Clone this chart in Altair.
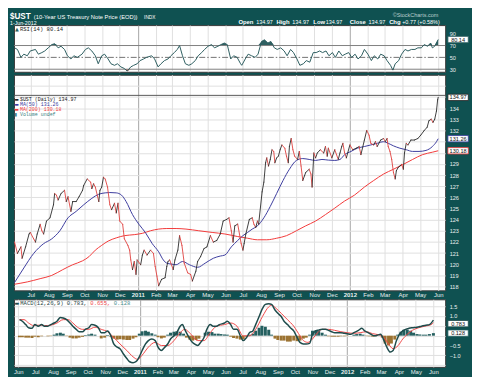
import altair as alt
import pandas as pd

# ---------------- data ----------------
# day offsets are calendar days counted from 2010-07-01
PRICE_DAY = [-28,-23,-17,-15,-9,-3,-1,5,8,11,16,19,22,27,33,39,41,44,47,52,58,61,64,69,72,78,83,89,91,97,
             103,105,108,111,117,119,122,125,128,132,136,139,144,147,150,153,158,161,167,170,172,175,178,181,183,
             189,192,195,200,206,211,214,217,220,225,231,234,236,239,245,248,253,256,260,264,270,275,278,284,287,
             292,298,303,309,314,320,326,331,337,341,345,348,351,356,362,365,367,370,376,381,384,387,390,392,398,
             401,404,406,409,412,415,418,420,423,426,429,432,437,440,443,445,448,451,454,459,462,465,468,471,473,
             479,482,484,487,490,493,498,504,507,510,512,518,523,529,532,535,537,540,543,549,554,560,565,568,574,
             578,582,585,590,593,596,602,607,610,613,615,618,621,624,627,629,632,635,638,641,643,646,649,654,660,
             666,671,677,682,685,689,692,695,698,700,701]
PRICE = [121.98,120.97,121.55,120.53,121.55,122.71,122.85,122.27,121.98,122.71,123.58,123.0,122.71,123.87,124.16,
         125.33,126.34,126.2,125.76,126.34,126.63,125.62,126.05,124.74,125.62,125.62,126.05,126.63,127.07,127.65,
         127.36,126.78,127.22,126.92,125.62,126.63,126.92,127.8,127.65,126.92,125.33,124.89,125.47,124.6,125.47,
         123.87,123.58,122.27,121.69,121.26,120.38,119.51,120.24,119.08,120.38,119.95,120.82,121.26,120.82,121.26,
         120.97,119.8,118.93,118.06,118.64,118.78,119.8,120.24,120.38,119.51,120.38,121.26,122.56,121.69,120.09,
         119.22,119.08,118.49,119.37,120.24,120.67,121.4,121.55,122.56,121.98,122.13,122.71,123.87,124.02,124.16,
         123.0,121.98,123.44,123.6,121.84,121.26,121.84,122.71,124.02,124.16,123.58,123.29,123.87,123.58,126.49,
         127.36,129.1,129.54,128.81,129.4,130.27,130.12,129.1,129.54,129.69,130.27,130.7,130.41,129.69,129.1,
         130.56,131.28,130.27,129.69,129.4,130.12,128.81,127.51,127.94,128.23,128.52,128.09,126.92,129.98,129.54,
         129.98,130.27,129.98,130.56,129.69,130.41,129.54,130.27,129.4,129.98,130.56,130.85,129.98,129.54,130.7,
         130.27,130.41,130.56,129.83,131.14,132.01,131.58,130.85,130.7,131.0,130.56,131.14,131.28,131.0,131.28,
         130.56,130.12,129.4,128.23,127.65,128.38,128.67,128.81,128.96,128.52,129.98,130.85,130.7,131.14,131.14,
         131.28,131.58,132.0,132.29,132.87,133.01,132.72,133.01,133.74,134.75,134.97]

MA50_DAY = [-28,-12,5,22,36,50,64,78,91,105,117,128,136,147,156,164,175,186,197,209,220,228,234,242,250,261,273,
            287,300,314,326,334,345,356,365,373,381,390,401,412,423,434,445,457,468,479,490,501,512,523,532,540,551,
            562,574,585,596,607,615,624,635,646,657,668,680,691,698,701]
MA50 = [118.35,119.66,120.97,121.84,122.27,123.0,124.16,124.74,125.33,125.91,126.28,126.4,126.43,126.4,126.2,125.62,
        124.45,123.58,122.85,121.84,121.11,120.38,120.09,120.01,119.95,120.24,119.95,119.72,120.09,120.53,120.73,
        120.82,121.55,122.13,122.56,122.85,123.15,123.44,124.16,125.18,126.34,127.51,128.52,129.31,129.48,129.4,
        129.31,129.4,129.34,129.31,129.4,129.83,130.12,130.41,130.56,130.7,130.85,130.99,130.85,130.62,130.41,
        130.27,130.12,130.12,130.21,130.56,130.99,131.26]

MA200_DAY = [-28,-6,16,36,55,72,89,100,111,122,133,147,161,178,192,206,220,234,250,267,289,312,334,356,373,390,406,
             423,440,457,473,490,507,523,540,557,574,590,607,624,641,657,674,691,701]
MA200 = [118.2,118.41,118.7,118.99,119.51,119.95,120.3,120.67,121.26,121.69,122.07,122.36,122.56,122.65,122.77,123.0,
         123.15,123.2,123.2,123.15,123.0,122.85,122.71,122.48,122.33,122.19,122.19,122.33,122.56,123.0,123.44,123.87,
         124.45,125.03,125.67,126.2,126.92,127.51,128.09,128.52,128.96,129.4,129.83,130.05,130.18]

RSI_DAY = [-28,-23,-17,-12,-6,-1,8,13,19,24,30,36,41,47,52,58,63,69,74,80,88,94,99,105,111,116,122,127,133,138,144,
           149,155,161,166,172,177,183,188,194,199,208,213,219,224,230,236,241,247,252,256,261,266,272,277,283,288,
           294,299,305,311,316,322,327,333,338,344,349,355,361,363,369,374,380,386,391,397,402,408,413,419,424,430,
           436,441,447,452,458,463,469,474,480,486,491,497,502,508,513,519,524,530,536,541,547,552,558,563,569,574,
           580,586,591,597,602,608,613,619,623,627,633,638,644,649,655,661,666,672,677,683,688,691,695,701]
RSI = [66.1,63.4,50,55.4,52.7,60.8,63.4,55.4,58.1,60.8,66.1,71.5,73.1,66.1,68.8,63.4,52.7,47.3,52.7,50,55.4,63.4,
       66.1,60.8,52.7,39.2,52.7,55.4,47.3,39.2,36.6,39.2,33.9,31.2,26.9,33.9,36.6,39.2,44.6,47.3,50,52.7,47.3,33.9,
       39.2,44.6,47.3,52.7,58.1,63.4,69.9,52.7,39.2,36.6,39.2,44.6,52.7,58.1,63.4,68.8,71.5,66.1,68.8,71.5,74.2,71.5,
       47.3,52.7,50,39.2,36.6,47.3,55.4,52.7,50,55.4,76.9,79.6,74.2,76.9,66.1,63.4,66.1,60.8,52.7,63.4,58.1,47.3,36.6,
       39.2,44.6,41.9,58.1,58.1,60.8,58.1,60.8,52.7,58.1,50,60.8,52.7,55.4,58.1,50,55.4,47.3,52.7,63.4,55.4,44.6,52.7,
       47.3,55.4,52.7,44.6,36.6,28.5,39.2,44.6,55.4,63.4,60.8,63.4,63.4,66.1,66.1,71.5,68.8,74.2,66.1,68.8,80.14]

MACD_DAY = [-28,-23,-17,-12,-6,-1,5,11,16,22,27,33,38,44,49,55,61,66,72,77,83,88,94,99,105,111,116,122,127,133,138,
            144,149,155,161,166,172,177,183,188,194,199,205,211,216,222,227,233,238,244,249,255,259,263,269,274,280,
            286,291,297,302,308,313,319,324,333,338,344,349,355,361,366,372,377,383,388,394,400,405,411,416,422,427,
            433,438,444,449,455,461,466,472,477,483,488,494,499,505,511,516,522,527,533,538,544,549,555,561,569,575,
            580,586,591,597,602,608,614,619,625,630,636,641,647,652,658,664,672,680,688,694,701]
MACD = [0.81,0.73,0.56,0.40,0.37,0.56,0.48,0.56,0.48,0.48,0.56,0.64,0.73,0.92,0.89,0.81,0.64,0.48,0.32,0.20,0.20,
        0.32,0.40,0.56,0.53,0.40,0.15,0.15,0.24,-0.01,-0.42,-0.58,-0.66,-0.92,-1.16,-1.32,-1.37,-1.32,-1.07,-0.75,
        -0.42,-0.25,-0.17,-0.25,-0.58,-0.75,-0.61,-0.42,-0.17,-0.01,0.15,0.48,0.56,0.32,-0.01,-0.25,-0.42,-0.50,
        -0.34,-0.09,0.32,0.56,0.48,0.48,0.56,0.64,0.73,0.56,0.32,0.32,-0.01,-0.25,-0.09,0.15,0.24,0.56,0.97,1.38,
        1.58,1.62,1.58,1.30,1.13,0.97,0.73,0.56,0.40,0.24,-0.09,-0.34,-0.42,-0.42,-0.39,0.07,0.24,0.28,0.32,0.32,
        0.27,0.20,0.15,0.15,0.15,0.12,0.10,0.07,0.15,0.27,0.37,0.24,0.15,0.07,-0.01,0.02,0.07,-0.25,-0.58,-0.83,
        -0.75,-0.25,0.07,0.24,0.32,0.37,0.40,0.43,0.48,0.53,0.56,0.783]

SIG_DAY = [-28,-20,-12,-3,5,16,27,38,49,58,66,74,83,94,105,116,127,138,149,161,172,180,188,199,211,222,233,244,255,
           263,274,286,297,308,319,333,344,355,366,377,388,400,411,416,424,433,444,455,466,472,480,488,497,505,516,
           527,538,549,561,572,583,594,605,614,622,630,639,647,655,664,675,686,697,701]
SIGNAL = [0.81,0.81,0.64,0.51,0.53,0.51,0.53,0.64,0.81,0.81,0.64,0.43,0.32,0.32,0.43,0.32,0.20,-0.09,-0.42,-0.75,
          -1.07,-1.20,-0.99,-0.58,-0.34,-0.50,-0.50,-0.25,0.15,0.32,0.07,-0.25,-0.25,0.15,0.48,0.56,0.64,0.48,-0.01,
          -0.01,0.32,0.97,1.46,1.54,1.38,1.13,0.81,0.48,-0.01,-0.25,-0.34,-0.17,0.15,0.32,0.32,0.27,0.20,0.15,0.12,
          0.15,0.20,0.10,0.04,-0.09,-0.42,-0.66,-0.50,-0.17,0.07,0.27,0.40,0.48,0.56,0.655]

HIST_DAY = [-28,-23,-17,-12,-6,-1,5,11,16,22,27,33,38,44,49,55,61,66,72,77,83,88,94,99,105,111,116,122,127,133,138,
            144,149,155,161,166,172,177,183,188,194,199,205,211,216,222,227,233,238,244,249,255,261,266,272,277,283,
            288,294,299,305,311,316,322,327,333,338,344,349,355,
            361,366,372,377,383,388,394,399,405,411,416,422,427,433,438,444,449,455,461,466,472,477,483,488,494,499,
            505,511,516,522,527,533,538,544,549,555,561,566,572,577,583,588,594,599,605,611,616,622,627,633,638,644,
            649,655,661,666,672,677,683,688,694,701]
HIST = [-0.08,-0.08,-0.1,-0.1,-0.12,-0.05,-0.08,-0.03,0.0,-0.03,-0.02,0.05,0.12,0.15,0.1,-0.02,-0.1,-0.14,-0.14,-0.1,
        -0.06,0.03,0.06,0.1,0.05,0.0,-0.14,-0.1,0.03,-0.05,-0.15,-0.2,-0.18,-0.2,-0.22,-0.22,-0.15,-0.08,0.1,0.22,
        0.25,0.2,0.12,0.05,-0.08,-0.14,-0.1,0.05,0.15,0.2,0.22,0.2,0.1,-0.1,-0.2,-0.25,-0.22,-0.15,0.0,0.15,
        0.2,0.18,0.1,0.1,0.08,0.06,0.05,-0.05,-0.12,-0.15,
        -0.2,-0.18,-0.05,0.05,0.1,0.25,0.4,0.5,0.45,0.3,0.05,-0.15,-0.22,-0.25,-0.25,-0.3,-0.3,-0.25,-0.28,-0.25,
        -0.15,-0.1,0.05,0.25,0.28,0.25,0.15,0.05,-0.03,-0.05,-0.05,-0.05,-0.03,-0.03,-0.02,0.0,0.05,0.08,0.1,0.05,
        -0.02,-0.03,-0.05,-0.03,0.0,-0.1,-0.4,-0.5,-0.4,-0.2,0.05,0.2,0.3,0.3,0.25,0.15,0.08,0.06,0.05,0.05,
        0.08,0.128]

PRICE_TICKS = [118,119,120,121,122,123,124,125,126,127,128,129,130,131,132,133,134,135,136]
PRICE_HIDDEN = [130, 131, 135, 136]
RSI_TICKS = [30, 50, 70, 90]
RSI_BANDS = [70, 30]
RSI_MID = [50]
MACD_TICKS = [-1.5, -1.0, -0.5, 0.0, 0.5, 1.0, 1.5]
TOP_LINE = [135.15]

LAST = {"price": 134.97, "ma50": 131.26, "ma200": 130.18, "rsi": 80.14,
        "macd": 0.783, "signal": 0.655, "hist": 0.128}

TITLE_MAIN = "$UST"
TITLE_DESC = "(10-Year US Treasury Note Price (EOD))"
TITLE_EXCH = "INDX"
TITLE_DATE = "1-Jun-2012"
BRAND = "\u00a9StockCharts.com"
QUOTE_LABELS = ["Open", "High", "Low", "Close", "Chg"]
QUOTE_VALUES = ["134.97", "134.97", "134.97", "134.97", "+0.77 (+0.58%)"]

# ---------------- layout / style ----------------
BASE_MS = pd.Timestamp("2010-07-01").value // 10**6
DAY_MS = 86_400_000


def ms(days):
    return [BASE_MS + int(d) * DAY_MS for d in days]


W = 434
H_RSI, H_PRICE, H_MACD = 47, 217, 68
BG = "#0f5151"
GRID = "#e0e0e0"
YEAR_GRID = "#a6a6a6"
LABEL = "#e8efef"
SANS = "Liberation Sans"
MONO = "Liberation Mono"
UP, DOWN = "#2a2a2a", "#e0403e"
MA50_C, MA200_C = "#3d3d9e", "#f23a3a"
RSI_C, RSI_LOW = "#2e5f61", "#e04a3a"
MACD_C, SIG_C = "#1f4c4c", "#f04848"
HIST_POS, HIST_NEG = "#245f5f", "#9c7332"
VOL_C = "#3a8080"
BOX = "M-1,-0.31H1V0.31H-1Z"
BOX_SIZE = 420
TAG_X = W + 13

X_DOMAIN = ms([-29, 713])
YEAR_TEST = "month(datum.value) == 0"
ONE = pd.DataFrame({"k": [0]})


def x_axis(labels):
    return alt.Axis(
        title=None, grid=True,
        gridColor={"condition": {"test": YEAR_TEST, "value": YEAR_GRID}, "value": GRID},
        tickCount={"interval": "month", "step": 1},
        ticks=False, tickSize=0, domain=False, labels=labels,
        labelExpr="month(datum.value) == 0 ? timeFormat(datum.value, '%Y') : timeFormat(datum.value, '%b')",
        labelFontWeight={"condition": {"test": YEAR_TEST, "value": "bold"}, "value": "normal"},
        labelColor=LABEL, labelFont=SANS, labelFontSize=6, labelPadding=1.5,
        labelOverlap=False, labelFlush=False)


def xenc(field, labels):
    return alt.X(f"{field}:T", scale=alt.Scale(domain=X_DOMAIN), axis=x_axis(labels))


def y_axis(values, label_expr=None, grid=False):
    kw = dict(orient="right", values=values, grid=grid, gridColor=GRID, ticks=False, tickSize=0,
              domain=False, labelColor=LABEL, labelFont=SANS, labelFontSize=5.6, labelPadding=4,
              title=None, labelOverlap=False)
    if label_expr:
        kw["labelExpr"] = label_expr
    return alt.Axis(**kw)


def label(text, x, y, color, size, font=SANS, weight="normal", align="left"):
    return alt.Chart(ONE).mark_text(
        text=text, align=align, baseline="alphabetic", font=font, fontSize=size,
        fontWeight=weight, color=color).encode(x=alt.value(x), y=alt.value(y))


def tag(value, stroke, yfn, shift=0):
    df = pd.DataFrame({"v": [value], "s": [f"{value:g}"]})
    box = alt.Chart(df).mark_point(
        shape=BOX, size=BOX_SIZE, filled=True, fill="white", stroke=stroke,
        strokeWidth=0.8, opacity=1, yOffset=shift).encode(x=alt.value(TAG_X), y=yfn("v"))
    txt = alt.Chart(df).mark_text(
        font=SANS, fontSize=5.6, baseline="middle", color="#111", yOffset=shift).encode(
        x=alt.value(TAG_X), y=yfn("v"), text="s:N")
    return [box, txt]


# ---------------- RSI panel ----------------
RSI_SCALE = alt.Scale(domain=[25.7, 104.5], nice=False, zero=False)
RSI_AXIS = y_axis(RSI_TICKS)


def ry(f):
    return alt.Y(f"{f}:Q", scale=RSI_SCALE, axis=RSI_AXIS)


rsi_df = pd.DataFrame({"t": ms(RSI_DAY), "rsi": RSI})
rx = xenc("t", False)
rsi_base = alt.Chart(rsi_df)
rsi_layers = [
    rsi_base.transform_calculate(hi="max(datum.rsi, 70)").mark_area(color=RSI_C)
    .encode(x=rx, y=ry("hi"), y2=alt.datum(70)),
    rsi_base.transform_calculate(lo="min(datum.rsi, 30)").mark_area(color=RSI_LOW)
    .encode(x=rx, y=ry("lo"), y2=alt.datum(30)),
    alt.Chart(pd.DataFrame({"v": RSI_BANDS})).mark_rule(color="#808080", strokeWidth=1).encode(y=ry("v")),
    alt.Chart(pd.DataFrame({"v": RSI_MID})).mark_rule(color="#505050", strokeWidth=0.8,
                                                      strokeDash=[6, 2, 1.5, 2]).encode(y=ry("v")),
    rsi_base.mark_line(color=RSI_C, strokeWidth=1.0).encode(x=rx, y=ry("rsi")),
]
rsi_layers += tag(LAST["rsi"], RSI_C, ry)
rsi_layers += [
    label("\u25b2", 1, 5.5, RSI_C, 5, font="DejaVu Sans"),
    label(f"RSI(14) {LAST['rsi']}", 6, 5.5, "#222", 5.6, font=MONO),
    label(TITLE_MAIN, -4, -6.6, "white", 8.2, weight="bold"),
    label(TITLE_DESC, 20, -6.6, "white", 5.8),
    label(TITLE_EXCH, 131, -6.6, "white", 4.8),
    label(TITLE_DATE, -4, -0.2, "white", 5.3),
    label(BRAND, W - 7, -8.6, "#bcd0d0", 5.5, align="right"),
]
QUOTE_LX = [225.9, 264.2, 301.3, 338.0, 377.6]
QUOTE_VX = [243.8, 280.1, 313.7, 356.9, 390.7]
for lab, val, lx, vx in zip(QUOTE_LABELS, QUOTE_VALUES, QUOTE_LX, QUOTE_VX):
    rsi_layers.append(label(lab, lx, -0.6, "white", 5.9, weight="bold"))
    rsi_layers.append(label(val, vx, -0.6, "white", 5.5))
rsi = alt.layer(*rsi_layers).properties(width=W, height=H_RSI)

# ---------------- price panel ----------------
PRICE_SCALE = alt.Scale(domain=[117.65, 137.0], nice=False, zero=False)
hidden_expr = " || ".join(f"datum.value == {v}" for v in PRICE_HIDDEN)
PRICE_AXIS = y_axis(PRICE_TICKS, f"({hidden_expr}) ? '' : datum.label", grid=True)


def py(f):
    return alt.Y(f"{f}:Q", scale=PRICE_SCALE, axis=PRICE_AXIS)


seg_df = pd.DataFrame({"t": ms(PRICE_DAY), "p": PRICE})
seg_df["t0"] = seg_df["t"].shift()
seg_df["p0"] = seg_df["p"].shift()
seg_df = seg_df.dropna().astype({"t0": "int64"})
px_ = xenc("t", True)
ma50_df = pd.DataFrame({"t": ms(MA50_DAY), "v": MA50})
ma200_df = pd.DataFrame({"t": ms(MA200_DAY), "v": MA200})

price_layers = [
    alt.Chart(pd.DataFrame({"v": TOP_LINE})).mark_rule(color="#5a5a5a", strokeWidth=1).encode(y=py("v")),
    alt.Chart(ma200_df).mark_line(color=MA200_C, strokeWidth=1, interpolate="monotone").encode(x=px_, y=py("v")),
    alt.Chart(ma50_df).mark_line(color=MA50_C, strokeWidth=1, interpolate="monotone").encode(x=px_, y=py("v")),
    alt.Chart(seg_df).mark_rule(strokeWidth=0.9, strokeCap="round").encode(
        x=alt.X("t0:T", scale=alt.Scale(domain=X_DOMAIN), axis=x_axis(True)), x2="t",
        y=py("p0"), y2="p",
        color=alt.condition("datum.p < datum.p0", alt.value(DOWN), alt.value(UP))),
]
price_layers += tag(LAST["ma200"], MA200_C, py)
price_layers += tag(LAST["ma50"], MA50_C, py)
price_layers += tag(LAST["price"], "#222", py)
LEG_Y = [26.0, 31.2, 36.4, 41.6]
legend_rows = [
    (f"$UST (Daily) {LAST['price']}", "#222", "\u25ac"),
    (f"MA(50) {LAST['ma50']}", MA50_C, "\u25ac"),
    (f"MA(200) {LAST['ma200']}", MA200_C, "\u25ac"),
    ("Volume undef", VOL_C, "\u25ae"),
]
for (txt_, col, icon), yy in zip(legend_rows, LEG_Y):
    price_layers.append(label(icon, 0.5, yy, col, 4.6, font="DejaVu Sans"))
    price_layers.append(label(txt_, 6, yy, col, 5.0, font=MONO))
price = alt.layer(*price_layers).properties(width=W, height=H_PRICE)

# ---------------- MACD panel ----------------
MACD_SCALE = alt.Scale(domain=[-1.58, 1.84], nice=False, zero=False)
MACD_AXIS = y_axis(MACD_TICKS,
                   "(datum.value == 0 || datum.value == 0.5 || datum.value == -1.5) ? '' : format(datum.value, '.1f')",
                   grid=True)


def my(f):
    return alt.Y(f"{f}:Q", scale=MACD_SCALE, axis=MACD_AXIS)


mx = xenc("t", True)
hist_df = pd.DataFrame({"t": ms(HIST_DAY), "v": HIST})
macd_df = pd.DataFrame({"t": ms(MACD_DAY), "v": MACD})
sig_df = pd.DataFrame({"t": ms(SIG_DAY), "v": SIGNAL})
macd_layers = [
    alt.Chart(hist_df).mark_bar(size=3).encode(
        x=mx, y=my("v"), y2=alt.datum(0),
        color=alt.condition("datum.v >= 0", alt.value(HIST_POS), alt.value(HIST_NEG))),
    alt.Chart(sig_df).mark_line(color=SIG_C, strokeWidth=1, interpolate="monotone").encode(x=mx, y=my("v")),
    alt.Chart(macd_df).mark_line(color=MACD_C, strokeWidth=1.5, interpolate="monotone").encode(x=mx, y=my("v")),
]
macd_layers += tag(LAST["hist"], HIST_POS, my)
macd_layers += tag(LAST["macd"], MACD_C, my, shift=3.5)
CW = 0.6 * 5.6
macd_layers += [
    label("\u25ac", 0.5, 5.5, MACD_C, 5, font="DejaVu Sans"),
    label(f"MACD(12,26,9) {LAST['macd']},", 6.3, 5.5, "#1f3f3f", 5.6, font=MONO),
    label(f"{LAST['signal']},", 6.3 + 21 * CW, 5.5, SIG_C, 5.6, font=MONO),
    label(f"{LAST['hist']}", 6.3 + 28 * CW, 5.5, "#4a9090", 5.6, font=MONO),
]
macd = alt.layer(*macd_layers).properties(width=W, height=H_MACD)

chart = alt.vconcat(
    rsi, price, macd, spacing=0, background=BG,
    padding={"left": 1, "right": 1, "top": 1, "bottom": 1},
).configure_view(fill="white", stroke="#3a3a3a", strokeWidth=1)

chart.save("out.html", embed_options={"renderer": "svg", "actions": False})
